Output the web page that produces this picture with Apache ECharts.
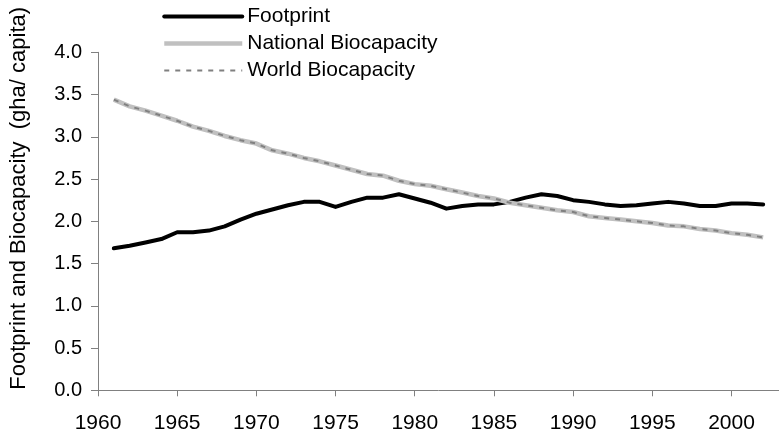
<!DOCTYPE html>
<html>
<head>
<meta charset="utf-8">
<script src="https://cdn.jsdelivr.net/npm/echarts@6/dist/echarts.min.js"></script>
<style>
html,body{margin:0;padding:0;background:#fff;}
#chart{width:779px;height:437px;}
</style>
</head>
<body>
<div id="chart"></div>
<script>
const years = [1961,1962,1963,1964,1965,1966,1967,1968,1969,1970,1971,1972,1973,1974,1975,1976,1977,1978,1979,1980,1981,1982,1983,1984,1985,1986,1987,1988,1989,1990,1991,1992,1993,1994,1995,1996,1997,1998,1999,2000,2001,2002];
const footprint = [1.68,1.71,1.75,1.79,1.87,1.87,1.89,1.94,2.02,2.09,2.14,2.19,2.23,2.23,2.17,2.23,2.28,2.28,2.32,2.27,2.22,2.15,2.18,2.20,2.20,2.23,2.28,2.32,2.30,2.25,2.23,2.20,2.18,2.19,2.21,2.23,2.21,2.18,2.18,2.21,2.21,2.20];
const nationalBiocapacity = [3.44,3.36,3.31,3.25,3.19,3.12,3.07,3.01,2.96,2.92,2.84,2.80,2.75,2.71,2.66,2.61,2.56,2.54,2.48,2.44,2.42,2.38,2.34,2.30,2.27,2.22,2.19,2.16,2.13,2.11,2.06,2.04,2.02,2.00,1.98,1.95,1.94,1.91,1.89,1.86,1.84,1.81];
const worldBiocapacity = [3.44,3.36,3.31,3.25,3.19,3.12,3.07,3.01,2.96,2.92,2.84,2.80,2.75,2.71,2.66,2.61,2.56,2.54,2.48,2.44,2.42,2.38,2.34,2.30,2.27,2.22,2.19,2.16,2.13,2.11,2.06,2.04,2.02,2.00,1.98,1.95,1.94,1.91,1.89,1.86,1.84,1.81];
const xTickLabels = [1960,1965,1970,1975,1980,1985,1990,1995,2000];
const yTickLabels = [0,0.5,1,1.5,2,2.5,3,3.5,4];
const seriesNames = ['Footprint','National Biocapacity','World Biocapacity'];
const yAxisTitle = 'Footprint and Biocapacity  (gha/ capita)';

const pairs = arr => years.map((y, i) => [y, arr[i]]);
const font = "'Liberation Sans', Arial, sans-serif";

const lineStyles = [
  {color: '#000000', width: 4, join: 'round', cap: 'round'},
  {color: '#c0c0c0', width: 4.5, join: 'round'},
  {color: '#808080', width: 2, type: [5, 6]}
];

const chart = echarts.init(document.getElementById('chart'), null, {renderer: 'canvas'});
chart.setOption({
  animation: false,
  backgroundColor: '#ffffff',
  grid: {left: 97.7, top: 52.3, bottom: 46.7, right: -2.4, containLabel: false},
  legend: {
    orient: 'vertical', left: 162, top: 6, padding: 0,
    itemWidth: 78, itemHeight: 21, itemGap: 6,
    itemStyle: {opacity: 0},
    textStyle: {fontFamily: font, fontSize: 21, color: '#000', lineHeight: 21},
    data: seriesNames.map((n, i) => ({
      name: n,
      lineStyle: {color: lineStyles[i].color, width: lineStyles[i].width, type: lineStyles[i].type || 'solid'}
    }))
  },
  xAxis: {
    type: 'value', min: 1960, max: 2003, interval: 5,
    splitLine: {show: false},
    axisLine: {lineStyle: {color: '#808080', width: 1}},
    axisTick: {show: true, length: 6, lineStyle: {color: '#808080'}, customValues: xTickLabels},
    axisLabel: {customValues: xTickLabels, margin: 22, fontFamily: font, fontSize: 21, color: '#000', formatter: v => String(v)}
  },
  yAxis: {
    type: 'value', min: 0, max: 4, interval: 0.5,
    name: yAxisTitle, nameLocation: 'middle', nameGap: 68, nameRotate: 90,
    nameTextStyle: {fontFamily: font, fontSize: 22, color: '#000', padding: [0, 0, 0, 46]},
    splitLine: {show: false},
    axisLine: {show: true, lineStyle: {color: '#808080', width: 1}},
    axisTick: {show: true, length: 7, lineStyle: {color: '#808080'}},
    axisLabel: {margin: 16, fontFamily: font, fontSize: 20, color: '#000', formatter: v => v.toFixed(1)}
  },
  series: [
    {name: seriesNames[0], type: 'line', data: pairs(footprint), symbol: 'none',
     lineStyle: lineStyles[0], itemStyle: {color: lineStyles[0].color}},
    {name: seriesNames[1], type: 'line', data: pairs(nationalBiocapacity), symbol: 'none',
     lineStyle: lineStyles[1], itemStyle: {color: lineStyles[1].color}},
    {name: seriesNames[2], type: 'line', data: pairs(worldBiocapacity), symbol: 'none',
     lineStyle: lineStyles[2], itemStyle: {color: lineStyles[2].color}}
  ]
});
</script>
</body>
</html>
